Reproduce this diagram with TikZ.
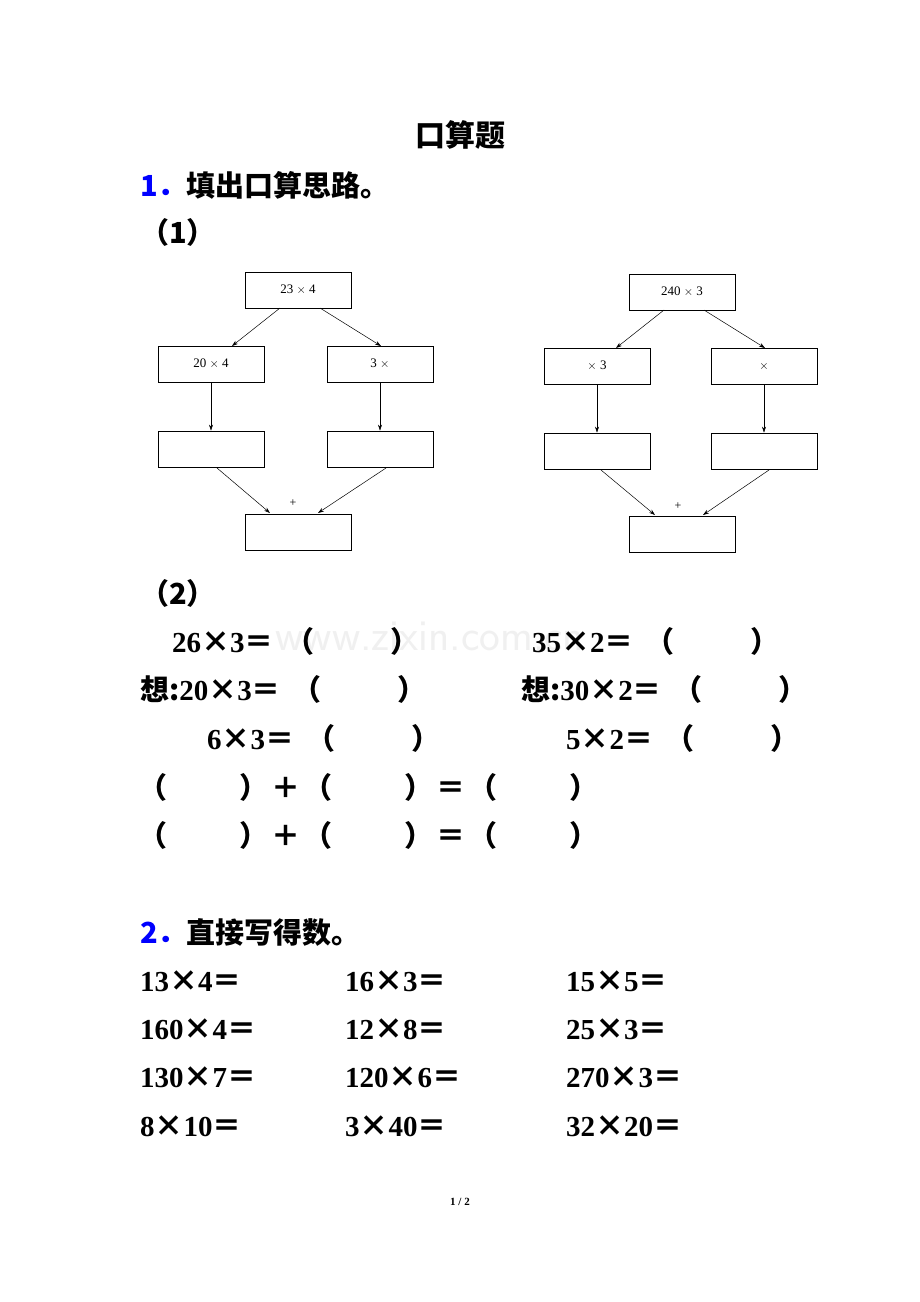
\documentclass[tikz,border=0pt]{standalone}
\usepackage{fontspec}
\setmainfont{Liberation Serif}
\newfontfamily\zhf{Noto Sans CJK SC}
\newcommand\zh[1]{{\zhf #1}}
\newcommand\pp{\hspace{12pt}\zh{（\hspace{76pt}）}}
\newcommand\qq{\zh{（\hspace{72pt}）}}
\usetikzlibrary{arrows.meta}
\begin{document}
\begin{tikzpicture}[x=1pt,y=-1pt,
  bx/.style={draw,line width=0.8pt,minimum width=106pt,minimum height=36pt,inner sep=0pt,font=\fontsize{13}{13}\selectfont},
  ar/.style={-{Stealth[length=6pt,width=4pt]},line width=0.5pt},
  t/.style={anchor=base west,inner sep=0pt,font=\fontsize{29}{29}\selectfont\bfseries},
  h/.style={anchor=base west,inner sep=0pt,font=\fontsize{29}{29}\selectfont\zhf\bfseries}]
\useasboundingbox[fill=white] (0,0) rectangle (920,1302);
\node[font=\fontsize{44}{44}\selectfont\sffamily,text=black!6] (water) at (430,636) {www.zixin.com.cn};
\node[anchor=base,inner sep=0pt,font=\fontsize{30}{30}\selectfont\zhf\bfseries] (title) at (460,146) {口算题};
\node[h] (s1) at (140,196) {\textcolor{blue}{1．}填出口算思路。};
\node[h] (p1) at (140,243) {（1）};
% left diagram
\node[bx] (a0) at (298,290) {23 $\times$ 4};
\node[bx] (a1) at (211,364) {20 $\times$ 4};
\node[bx] (a2) at (380,364) {3 $\times$};
\node[bx] (a3) at (211,449) {};
\node[bx] (a4) at (380,449) {};
\node[bx] (a5) at (298,532) {};
\node[font=\fontsize{12}{12}\selectfont] (ap) at (293,503) {+};
\draw[ar] (280,308) -- (232,346);
\draw[ar] (320,308) -- (381,346);
\draw[ar] (a1.south) -- (a3.north);
\draw[ar] (a2.south) -- (a4.north);
\draw[ar] (217,468) -- (270,513);
\draw[ar] (386,468) -- (318,513);
% right diagram
\node[bx] (b0) at (682,292) {240 $\times$ 3};
\node[bx] (b1) at (597,366) {$\times$ 3};
\node[bx] (b2) at (764,366) {$\times$};
\node[bx] (b3) at (597,451) {};
\node[bx] (b4) at (764,451) {};
\node[bx] (b5) at (682,534) {};
\node[font=\fontsize{12}{12}\selectfont] (bp) at (678,506) {+};
\draw[ar] (664,310) -- (616,348);
\draw[ar] (704,310) -- (765,348);
\draw[ar] (b1.south) -- (b3.north);
\draw[ar] (b2.south) -- (b4.north);
\draw[ar] (601,470) -- (655,515);
\draw[ar] (769,470) -- (703,515);
% (2)
\node[h] (p2) at (140,604) {（2）};
\node[t] (r1a) at (172,652) {26\zh{×}3\zh{＝}\pp};
\node[t] (r1b) at (532,652) {35\zh{×}2\zh{＝}\pp};
\node[t] (r2a) at (140,700) {\zh{想:}20\zh{×}3\zh{＝}\pp};
\node[t] (r2b) at (521,700) {\zh{想:}30\zh{×}2\zh{＝}\pp};
\node[t] (r3a) at (207,749) {6\zh{×}3\zh{＝}\pp};
\node[t] (r3b) at (566,749) {5\zh{×}2\zh{＝}\pp};
\node[h] (r4) at (138,798) {\qq\hspace{3pt}＋\hspace{3pt}\qq\hspace{3pt}＝\hspace{3pt}\qq};
\node[h] (r5) at (138,846) {\qq\hspace{3pt}＋\hspace{3pt}\qq\hspace{3pt}＝\hspace{3pt}\qq};
% 2
\node[h] (s2) at (140,943) {\textcolor{blue}{2．}直接写得数。};
\node[t] (q1) at (140,991) {13\zh{×}4\zh{＝}};
\node[t] (q2) at (345,991) {16\zh{×}3\zh{＝}};
\node[t] (q3) at (566,991) {15\zh{×}5\zh{＝}};
\node[t] (q4) at (140,1039) {160\zh{×}4\zh{＝}};
\node[t] (q5) at (345,1039) {12\zh{×}8\zh{＝}};
\node[t] (q6) at (566,1039) {25\zh{×}3\zh{＝}};
\node[t] (q7) at (140,1087) {130\zh{×}7\zh{＝}};
\node[t] (q8) at (345,1087) {120\zh{×}6\zh{＝}};
\node[t] (q9) at (566,1087) {270\zh{×}3\zh{＝}};
\node[t] (q10) at (140,1136) {8\zh{×}10\zh{＝}};
\node[t] (q11) at (345,1136) {3\zh{×}40\zh{＝}};
\node[t] (q12) at (566,1136) {32\zh{×}20\zh{＝}};
\node[font=\fontsize{11}{11}\selectfont\bfseries] (foot) at (460,1202) {1 / 2};
\end{tikzpicture}
\end{document}
